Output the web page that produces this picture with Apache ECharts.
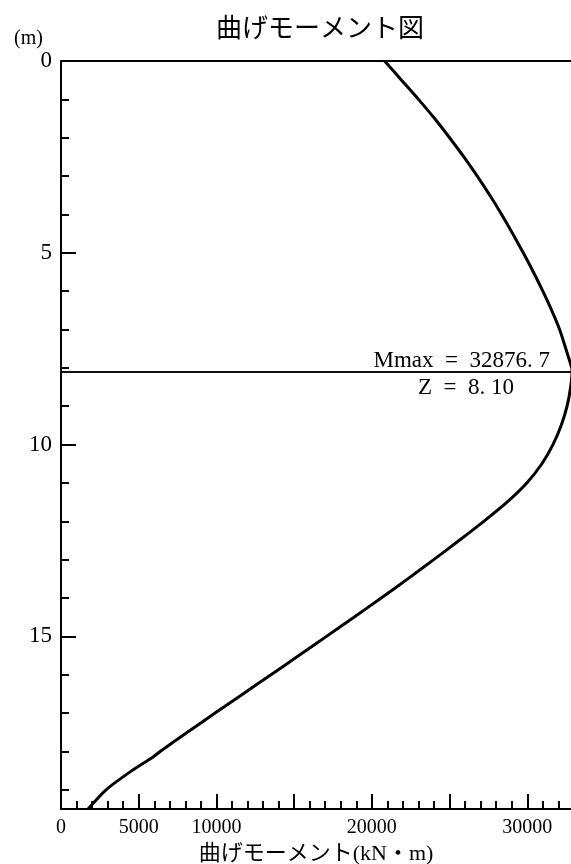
<!DOCTYPE html>
<html>
<head>
<meta charset="utf-8">
<script src="https://cdn.jsdelivr.net/npm/echarts@6/dist/echarts.min.js"></script>
<style>
  html, body { margin: 0; padding: 0; background: #fff; }
  #chart { width: 571px; height: 864px; }
</style>
</head>
<body>
<div id="chart"></div>
<script>
// depth (m) and bending moment (kN·m)
const depth = [0, 0.5, 1.0, 1.5, 2.0, 2.5, 3.0, 3.5, 4.0, 4.5, 5.0, 5.5, 6.0, 6.5, 7.0, 7.5, 8.0, 8.1,
  8.5, 9.0, 9.5, 10.0, 10.5, 11.0, 11.5, 12.0, 12.5, 13.0, 13.5, 14.0, 14.5, 15.0, 15.5, 16.0,
  16.5, 17.0, 17.5, 18.0, 18.15, 18.5, 19.0, 19.5]
const moment = [20820, 21910, 23000, 24040, 25000, 25920, 26780, 27590, 28350, 29060, 29740, 30390, 31000, 31570, 32080, 32480, 32860, 32876.7,
  32790, 32560, 32180, 31650, 30940, 29970, 28700, 27200, 25610, 23980, 22310, 20600, 18850, 17080, 15300, 13510,
  11710, 9910, 8130, 6380, 5900, 4560, 2900, 1740]
const mmax = 32876.7
const zmax = 8.10
const surface = 0
const yLabels = [0, 5, 10, 15]
const xLabels = [0, 5000, 10000, 20000, 30000]

const serif = "'Liberation Serif', 'Noto Sans CJK JP', serif"
const black = '#000'

const chart = echarts.init(document.getElementById('chart'))
chart.setOption({
  animation: false,
  title: {
    text: '曲げモーメント図', left: 211, top: 9,
    textStyle: { fontFamily: 'Noto Sans CJK JP', fontSize: 26, fontWeight: 'normal', color: black }
  },
  grid: { left: 61, top: 61, width: 544, bottom: 55, containLabel: false, outerBoundsMode: 'none' },
  xAxis: {
    type: 'value', min: 0, max: 35000, interval: 5000,
    name: '曲げモーメント(kN・m)', nameLocation: 'middle', nameGap: 28,
    nameTextStyle: { fontFamily: serif, fontSize: 22, color: black, padding: [0, 34, 0, 0] },
    axisLine: { onZero: false, lineStyle: { color: black, width: 2 } },
    axisTick: { inside: true, length: 15, lineStyle: { color: black, width: 2 } },
    minorTick: { show: true, splitNumber: 5, length: 8, lineStyle: { color: black, width: 2 } },
    splitLine: { show: false },
    axisLabel: {
      margin: 9, fontFamily: serif, fontSize: 20, color: black,
      formatter: v => xLabels.includes(v) ? String(v) : ''
    }
  },
  yAxis: [{
    type: 'value', inverse: true, min: 0, max: 19.5, interval: 5,
    name: '(m)', nameLocation: 'start', nameGap: 12,
    nameTextStyle: { fontFamily: serif, fontSize: 20, color: black, align: 'right', padding: [0, 18, 0, 0] },
    axisLine: { onZero: false, lineStyle: { color: black, width: 2 } },
    axisTick: { inside: true, length: 15, lineStyle: { color: black, width: 2 } },
    splitLine: { show: false },
    axisLabel: {
      margin: 9, fontFamily: serif, fontSize: 23, color: black, showMaxLabel: false,
      formatter: v => yLabels.includes(v) ? String(v) : ''
    }
  }, {
    type: 'value', inverse: true, min: 0, max: 19.5, interval: 1, position: 'left', offset: 0,
    axisLine: { show: false, onZero: false },
    axisTick: { inside: true, length: 8, lineStyle: { color: black, width: 2 } },
    axisLabel: { show: false },
    splitLine: { show: false }
  }],
  series: [{
    type: 'line',
    data: depth.map((d, i) => [moment[i], d]),
    showSymbol: false,
    smooth: 0.25,
    lineStyle: { color: black, width: 3 },
    markLine: {
      silent: true, symbol: 'none', animation: false,
      lineStyle: { color: black, width: 2, type: 'solid' },
      data: [
        { yAxis: surface, label: { show: false } },
        {
          yAxis: zmax, lineStyle: { width: 1.5 },
          label: {
            show: true, position: 'insideEndTop', distance: -1, padding: [0, 56, 0, 0],
            fontFamily: serif, fontSize: 23, color: black,
            formatter: 'Mmax  =  ' + mmax.toFixed(1).replace('.', '. ')
          }
        },
        {
          yAxis: zmax, lineStyle: { width: 1.5 },
          label: {
            show: true, position: 'insideEndBottom', distance: 5, padding: [0, 86, 0, 0],
            fontFamily: serif, fontSize: 23, color: black,
            formatter: 'Z  =  ' + zmax.toFixed(2).replace('.', '. ')
          }
        }
      ]
    }
  }]
})
</script>
</body>
</html>
